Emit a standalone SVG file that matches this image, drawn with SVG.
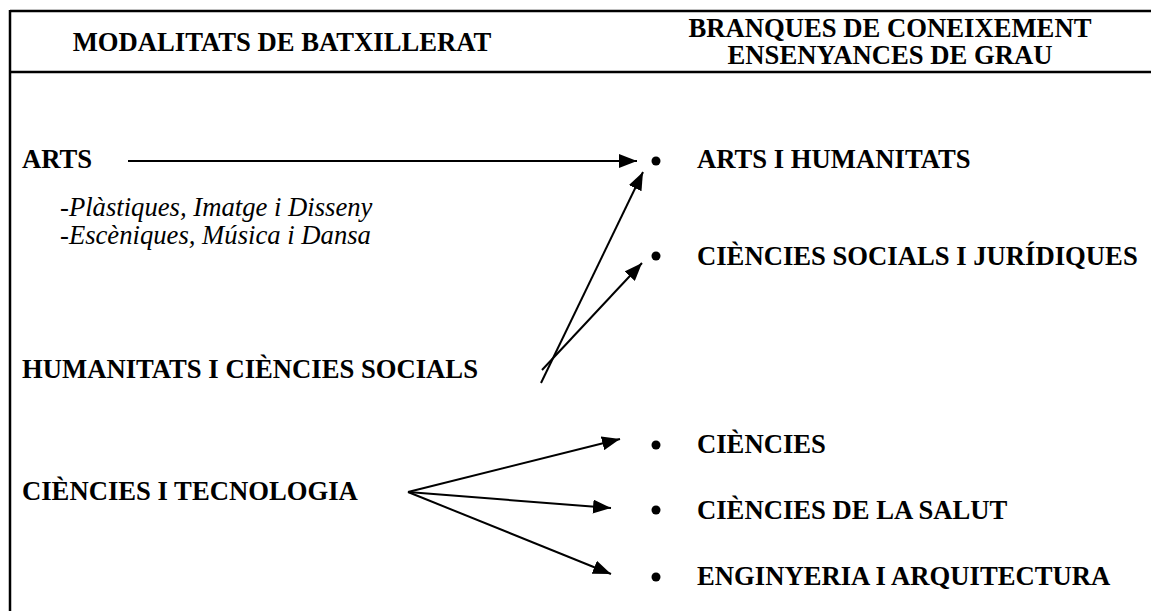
<svg xmlns="http://www.w3.org/2000/svg" width="1151" height="611" viewBox="0 0 1151 611">
<defs>
<marker id="ah" viewBox="0 0 18 14" refX="18" refY="7" markerWidth="18" markerHeight="14" markerUnits="userSpaceOnUse" orient="auto">
<path d="M0,0 L18,7 L0,14 Z" fill="#000"/>
</marker>
<style>
.b{font-family:"Liberation Serif","Times New Roman",serif;font-weight:bold;font-size:26.67px;fill:#000}
.i{font-family:"Liberation Serif","Times New Roman",serif;font-style:italic;font-size:26.67px;fill:#000}
.h{font-family:"Liberation Serif","Times New Roman",serif;font-weight:bold;font-size:26.67px;fill:#000;text-anchor:middle}
.fr{stroke:#000;stroke-width:2.5;fill:none}
.c{stroke:#000;stroke-width:2;fill:none;marker-end:url(#ah)}
</style>
</defs>
<rect width="1151" height="611" fill="#fff"/>
<g id="frame">
<line class="fr" x1="10" y1="11" x2="1151" y2="11"/>
<line class="fr" x1="10" y1="72" x2="1151" y2="72"/>
<line class="fr" x1="10" y1="10" x2="10" y2="611"/>
</g>
<g id="header">
<text class="h" x="282" y="51">MODALITATS DE BATXILLERAT</text>
<text class="h" x="890" y="37">BRANQUES DE CONEIXEMENT</text>
<text class="h" x="890" y="64">ENSENYANCES DE GRAU</text>
</g>
<g id="arts"><text class="b" x="22" y="168">ARTS</text></g>
<g id="arts-sub">
<text class="i" x="60" y="216">-Plàstiques, Imatge i Disseny</text>
<text class="i" x="60" y="244">-Escèniques, Música i Dansa</text>
</g>
<g id="humanitats"><text class="b" x="22" y="378">HUMANITATS I CIÈNCIES SOCIALS</text></g>
<g id="ciencies-tec"><text class="b" x="22" y="500">CIÈNCIES I TECNOLOGIA</text></g>
<g id="b-arts"><circle cx="656" cy="161" r="4.5"/><text class="b" x="697" y="168">ARTS I HUMANITATS</text></g>
<g id="b-socials"><circle cx="656" cy="256" r="4.5"/><text class="b" x="697" y="265">CIÈNCIES SOCIALS I JURÍDIQUES</text></g>
<g id="b-ciencies"><circle cx="656" cy="445" r="4.5"/><text class="b" x="697" y="453">CIÈNCIES</text></g>
<g id="b-salut"><circle cx="656" cy="510" r="4.5"/><text class="b" x="697" y="519">CIÈNCIES DE LA SALUT</text></g>
<g id="b-eng"><circle cx="656" cy="577" r="4.5"/><text class="b" x="697" y="585">ENGINYERIA I ARQUITECTURA</text></g>
<g id="connectors">
<line class="c" x1="128" y1="161" x2="637" y2="161"/>
<line class="c" x1="541" y1="383" x2="643" y2="172"/>
<line class="c" x1="542" y1="370" x2="642" y2="263"/>
<line class="c" x1="408" y1="492" x2="620" y2="439"/>
<line class="c" x1="408" y1="492" x2="611" y2="508"/>
<line class="c" x1="408" y1="492" x2="611" y2="574"/>
</g>
</svg>
